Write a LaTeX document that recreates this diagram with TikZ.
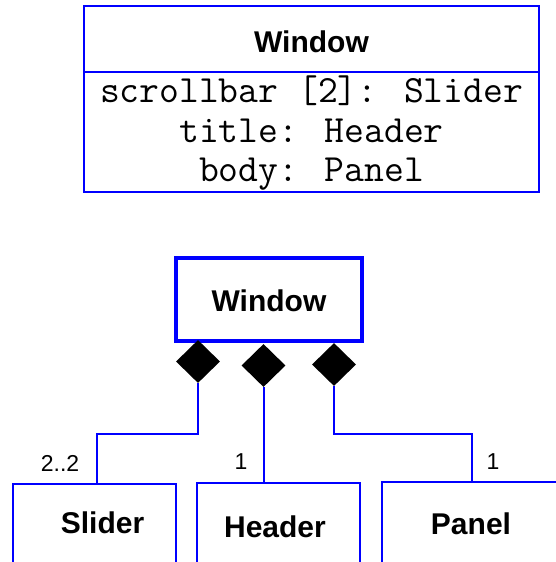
\documentclass[tikz,border=0pt]{standalone}
\usepackage{fontspec}
\setmainfont{Liberation Sans}
\usetikzlibrary{shapes.geometric}
\definecolor{umlblue}{RGB}{0,0,255}
\tikzset{
  classname/.style={font=\fontsize{30}{34}\selectfont\bfseries, inner sep=0pt},
  attr/.style={font=\fontsize{38.5}{42}\selectfont\ttfamily, anchor=base, inner sep=0pt},
  mult/.style={font=\fontsize{23}{26}\selectfont, inner sep=0pt},
  comp/.style={diamond, fill=black, draw=none, inner sep=0pt, minimum width=44pt, minimum height=43pt},
  conn/.style={draw=umlblue, line width=2pt},
  box/.style={draw=umlblue, line width=2.6pt},
}
\begin{document}
\begin{tikzpicture}[x=1pt, y=-1pt]
\useasboundingbox (0,0) rectangle (556,562);
\clip (0,0) rectangle (556,562);
% top class box
\draw[umlblue, line width=2pt] (84,6) rectangle (539,192);
\draw[umlblue, line width=2pt] (84,72) -- (539,72);
\node[classname] (tw) at (311.5,42) {Window};
\node[attr] (a1) at (311.5,102) {scrollbar [2]: Slider};
\node[attr] (a2) at (311.5,142) {title: Header};
\node[attr] (a3) at (311.5,181) {body: Panel};
% bottom diagram
\node[draw=umlblue, line width=3.5pt, minimum width=186pt, minimum height=83pt, inner sep=0pt] (w) at (269,299.5) {};
\node[classname] (wt) at (269,301) {Window};
\node[comp] (d1) at (198,361.5) {};
\node[comp] (d2) at (263.5,365.5) {};
\node[comp] (d3) at (334,364.5) {};
\draw[box] (13,640) -- (13,484) -- (176,484) -- (176,640);
\draw[box] (197,640) -- (197,483) -- (360,483) -- (360,640);
\draw[box] (382,640) -- (382,482) -- (640,482);
\coordinate (sin) at (97,484);
\coordinate (hin) at (263.5,483);
\coordinate (pin) at (472,482);
\node[classname] (st) at (102.5,523) {Slider};
\node[classname] (ht) at (275,527) {Header};
\node[classname] (pt) at (471,524) {Panel};
\draw[conn] (d1.south) -- (198,434) -| (sin);
\draw[conn] (d2.south) -- (hin);
\draw[conn] (d3.south) -- (334,434) -| (pin);
\node[mult] (m1) at (60,463) {2..2};
\node[mult] (m2) at (241,462) {1};
\node[mult] (m3) at (493,462) {1};
\end{tikzpicture}
\end{document}
